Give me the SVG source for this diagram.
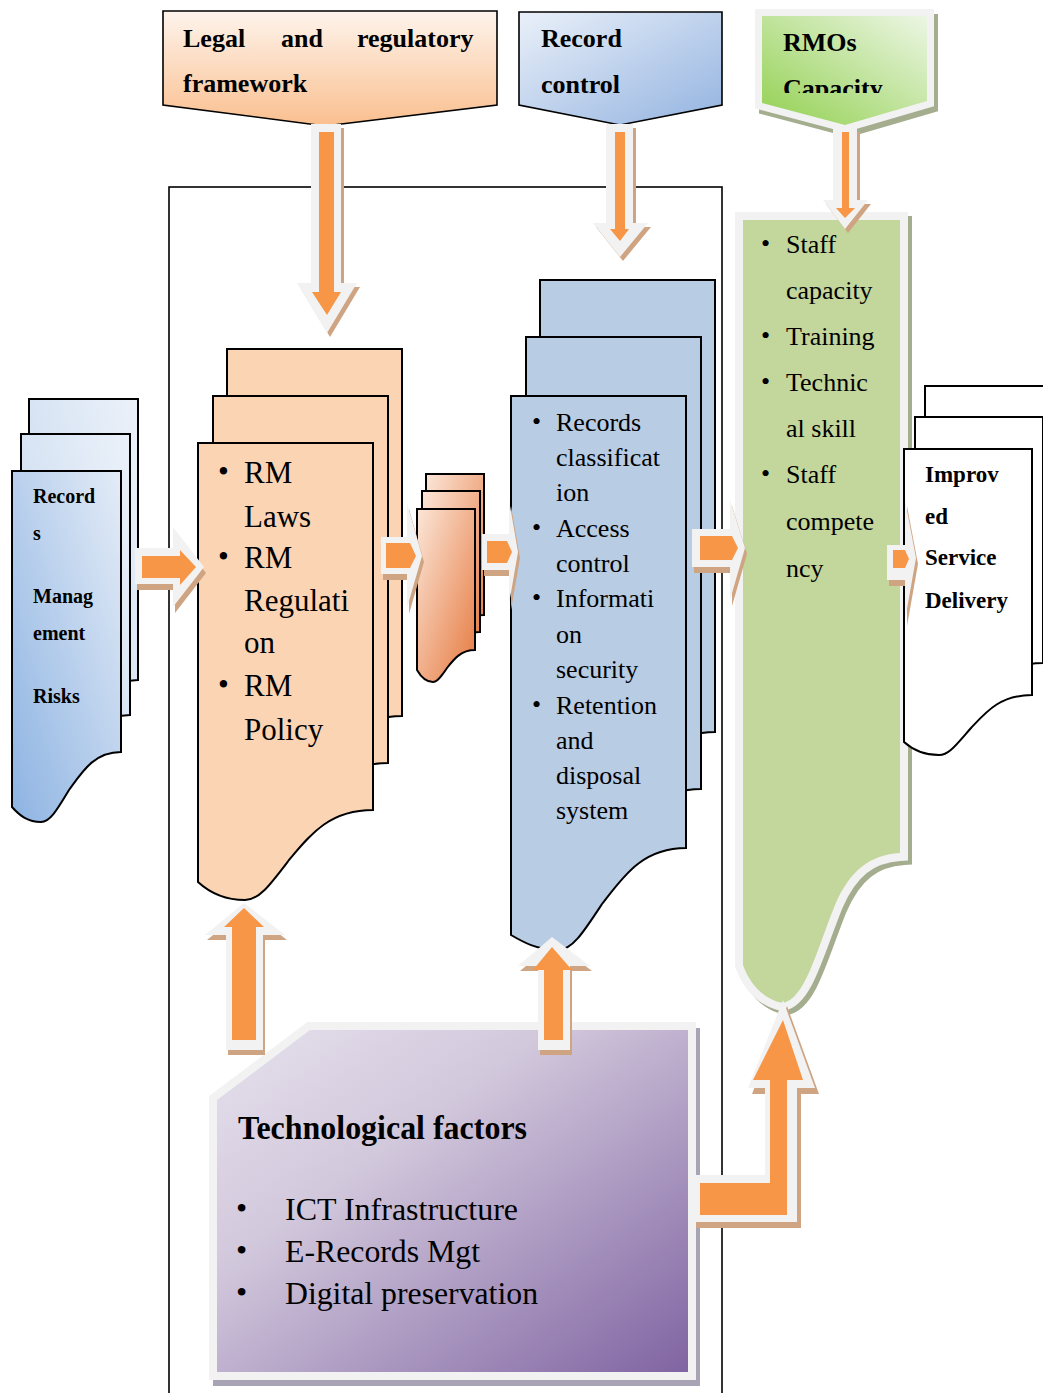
<svg xmlns="http://www.w3.org/2000/svg" xmlns:xlink="http://www.w3.org/1999/xlink" width="1043" height="1393" viewBox="0 0 1043 1393">
<defs>
<style>
.t{font-family:"Liberation Serif","Times New Roman",serif;fill:#000}
.b{font-weight:bold}
.pg{stroke:#000;stroke-width:2}
.sh{fill:#cfa482}
.wo{fill:#f2f2f2}
.or{fill:#f79646}
</style>
<linearGradient id="gLegal" x1="0" y1="0" x2="0" y2="1"><stop offset="0" stop-color="#fef4ec"/><stop offset="1" stop-color="#fabf8f"/></linearGradient>
<linearGradient id="gRec" x1="0" y1="0" x2="1" y2="1"><stop offset="0" stop-color="#eaf0f9"/><stop offset="1" stop-color="#93b3e0"/></linearGradient>
<linearGradient id="gRmo" x1="1" y1="0" x2="0" y2="1"><stop offset="0" stop-color="#ecf6e4"/><stop offset="1" stop-color="#92d050"/></linearGradient>
<linearGradient id="gBlueF" x1="0" y1="1" x2="1" y2="0"><stop offset="0" stop-color="#8db3e2"/><stop offset="1" stop-color="#e4ecf7"/></linearGradient>
<linearGradient id="gBlueB" x1="0" y1="1" x2="1" y2="0"><stop offset="0" stop-color="#c4d7ef"/><stop offset="1" stop-color="#ebf1f9"/></linearGradient>
<linearGradient id="gOr" x1="0" y1="0" x2="1" y2="1"><stop offset="0" stop-color="#fbe6d8"/><stop offset="1" stop-color="#e6793f"/></linearGradient>
<linearGradient id="gTech" x1="0" y1="0" x2="1" y2="1"><stop offset="0" stop-color="#e6e1ed"/><stop offset="0.35" stop-color="#d2c8dc"/><stop offset="1" stop-color="#8064a2"/></linearGradient>
<clipPath id="cRmo"><rect x="755" y="0" width="185" height="93"/></clipPath>
<path id="pgRM" d="M0,0 H175 V367 C131,367 112,392 91,417 C72,442 61,457 47,457 C26,457 12,450 0,439 Z"/>
<path id="pgBl" d="M0,0 H175 V452 C131,452 112,481 91,508 C72,537 61,554 47,554 C26,554 12,546 0,539 Z"/>
<path id="pgRk" d="M0,0 H109 V281 C82,281 70,301 57,319 C45,339 38,351 29,351 C16,351 8,345 0,336 Z"/>
<path id="pgSm" d="M0,0 H58 V141 C44,141 37,150 30,159 C24,168 20,173 16,173 C9,173 4,168 0,161 Z"/>
<path id="pgIm" d="M0,0 H128 V246 C96,246 82,263 67,279 C52,296 45,306 35,306 C19,306 9,301 0,293 Z"/>
</defs>

<rect x="169" y="187" width="553" height="1230" fill="none" stroke="#000" stroke-width="1.6"/>

<g id="legal">
<polygon points="163,11 497,11 497,105 325,126 163,105" fill="url(#gLegal)" stroke="#000" stroke-width="1.6"/>
<text class="t b" font-size="26" x="183" y="47">Legal</text>
<text class="t b" font-size="26" x="281" y="47">and</text>
<text class="t b" font-size="26" x="357" y="47">regulatory</text>
<text class="t b" font-size="26" x="183" y="92">framework</text>
</g>

<g id="recordcontrol">
<polygon points="519,12 722,12 722,105 620,125 519,105" fill="url(#gRec)" stroke="#000" stroke-width="1.6"/>
<text class="t b" font-size="26" x="541" y="47">Record</text>
<text class="t b" font-size="26" x="541" y="93">control</text>
</g>

<g id="rmos">
<polygon points="762,16 927,16 927,101 845,125 762,103" fill="#a5ad8f" stroke="#a5ad8f" stroke-width="14" stroke-linejoin="miter" transform="translate(4,5)"/>
<polygon points="762,16 927,16 927,101 845,125 762,103" fill="url(#gRmo)" stroke="#f2f2f2" stroke-width="14"/>
<polygon points="762,16 927,16 927,101 845,125 762,103" fill="url(#gRmo)"/>
<g clip-path="url(#cRmo)">
<text class="t b" font-size="26" x="783" y="51">RMOs</text>
<text class="t b" font-size="26" x="783" y="97">Capacity</text>
</g>
</g>

<g id="risks">
<use xlink:href="#pgRk" transform="translate(29,399)" class="pg" fill="url(#gBlueB)"/>
<use xlink:href="#pgRk" transform="translate(21,434)" class="pg" fill="url(#gBlueB)"/>
<use xlink:href="#pgRk" transform="translate(12,471)" class="pg" fill="url(#gBlueF)"/>
<text class="t b" font-size="20" x="33" y="503">Record</text>
<text class="t b" font-size="20" x="33" y="540">s</text>
<text class="t b" font-size="20" x="33" y="603">Manag</text>
<text class="t b" font-size="20" x="33" y="640">ement</text>
<text class="t b" font-size="20" x="33" y="703">Risks</text>
</g>

<g id="rmlaws">
<use xlink:href="#pgRM" transform="translate(227,349)" class="pg" fill="#fbd4b4"/>
<use xlink:href="#pgRM" transform="translate(213,396)" class="pg" fill="#fbd4b4"/>
<use xlink:href="#pgRM" transform="translate(198,443)" class="pg" fill="#fbd4b4"/>
<g class="t" font-size="31">
<text x="218" y="482">•</text><text x="244" y="483">RM</text>
<text x="244" y="527">Laws</text>
<text x="218" y="567">•</text><text x="244" y="568">RM</text>
<text x="244" y="611">Regulati</text>
<text x="244" y="653">on</text>
<text x="218" y="695">•</text><text x="244" y="696">RM</text>
<text x="244" y="740">Policy</text>
</g>
</g>

<g id="smalldocs">
<use xlink:href="#pgSm" transform="translate(426,474)" class="pg" fill="url(#gOr)"/>
<use xlink:href="#pgSm" transform="translate(422,491)" class="pg" fill="url(#gOr)"/>
<use xlink:href="#pgSm" transform="translate(417,509)" class="pg" fill="url(#gOr)"/>
</g>

<g id="recordsys">
<use xlink:href="#pgBl" transform="translate(540,280)" class="pg" fill="#b8cce4"/>
<use xlink:href="#pgBl" transform="translate(526,337)" class="pg" fill="#b8cce4"/>
<use xlink:href="#pgBl" transform="translate(511,396)" class="pg" fill="#b8cce4"/>
<g class="t" font-size="26">
<text x="532" y="430">•</text><text x="556" y="431">Records</text>
<text x="556" y="466">classificat</text>
<text x="556" y="501">ion</text>
<text x="532" y="536">•</text><text x="556" y="537">Access</text>
<text x="556" y="572">control</text>
<text x="532" y="606">•</text><text x="556" y="607">Informati</text>
<text x="556" y="643">on</text>
<text x="556" y="678">security</text>
<text x="532" y="713">•</text><text x="556" y="714">Retention</text>
<text x="556" y="749">and</text>
<text x="556" y="784">disposal</text>
<text x="556" y="819">system</text>
</g>
</g>

<g id="capacity">
<path d="M743,220 H900 V853 C870,855 850,870 835,905 C815,955 805,998 783,1003 C765,1000 750,985 743,965 Z" fill="#a5ad8f" stroke="#a5ad8f" stroke-width="16" transform="translate(4,4)"/>
<path d="M743,220 H900 V853 C870,855 850,870 835,905 C815,955 805,998 783,1003 C765,1000 750,985 743,965 Z" fill="#f2f2f2" stroke="#f2f2f2" stroke-width="16"/>
<path d="M743,220 H900 V853 C870,855 850,870 835,905 C815,955 805,998 783,1003 C765,1000 750,985 743,965 Z" fill="#c3d69b"/>
<g class="t" font-size="26">
<text x="761" y="252">•</text><text x="786" y="253">Staff</text>
<text x="786" y="299">capacity</text>
<text x="761" y="344">•</text><text x="786" y="345">Training</text>
<text x="761" y="390">•</text><text x="786" y="391">Technic</text>
<text x="786" y="437">al skill</text>
<text x="761" y="482">•</text><text x="786" y="483">Staff</text>
<text x="786" y="530">compete</text>
<text x="786" y="577">ncy</text>
</g>
</g>

<g id="improved">
<use xlink:href="#pgIm" transform="translate(925,386)" class="pg" fill="#fff"/>
<use xlink:href="#pgIm" transform="translate(915,417)" class="pg" fill="#fff"/>
<use xlink:href="#pgIm" transform="translate(904,449)" class="pg" fill="#fff"/>
<text class="t b" font-size="23" x="925" y="482">Improv</text>
<text class="t b" font-size="23" x="925" y="524">ed</text>
<text class="t b" font-size="23" x="925" y="565">Service</text>
<text class="t b" font-size="23" x="925" y="608">Delivery</text>
</g>

<g id="tech">
<path d="M310,1030 H688 V1372 H217 V1100 Z" fill="#a9a3b6" stroke="#a9a3b6" stroke-width="16" transform="translate(4,6)"/>
<path d="M310,1030 H688 V1372 H217 V1100 Z" fill="#f2f2f2" stroke="#f2f2f2" stroke-width="16"/>
<path d="M310,1030 H688 V1372 H217 V1100 Z" fill="url(#gTech)"/>
<text class="t b" font-size="33" x="238" y="1139" textLength="289" lengthAdjust="spacingAndGlyphs">Technological factors</text>
<g class="t" font-size="32">
<text x="236" y="1219">•</text><text x="285" y="1220" textLength="233" lengthAdjust="spacingAndGlyphs">ICT Infrastructure</text>
<text x="236" y="1261">•</text><text x="285" y="1262" textLength="195" lengthAdjust="spacingAndGlyphs">E-Records Mgt</text>
<text x="236" y="1303">•</text><text x="285" y="1304" textLength="253" lengthAdjust="spacingAndGlyphs">Digital preservation</text>
</g>
</g>

<g id="connectors">
<!-- legal down -->
<polygon class="sh" transform="translate(3,4)" points="311,124 341,124 341,283 357,283 327,333 297,283 311,283"/>
<polygon class="wo" points="311,124 341,124 341,283 357,283 327,333 297,283 311,283"/>
<polygon class="or" points="319,132 334,132 334,292 341,292 327,315 312,292 319,292"/>
<!-- record control down -->
<polygon class="sh" transform="translate(3,4)" points="606,124 633,124 633,223 648,223 620,257 593,223 606,223"/>
<polygon class="wo" points="606,124 633,124 633,223 648,223 620,257 593,223 606,223"/>
<polygon class="or" points="615,132 625,132 625,229 629,229 620,241 610,229 615,229"/>
<!-- rmos down -->
<polygon class="sh" transform="translate(3,4)" points="833,128 857,128 857,200 868,200 845,229 823,200 833,200"/>
<polygon class="wo" points="833,128 857,128 857,200 868,200 845,229 823,200 833,200"/>
<polygon class="or" points="842,132 849,132 849,208 855,208 845,218 836,208 842,208"/>
<!-- risks -> rm -->
<polygon class="sh" transform="translate(2,6)" points="135,548 173,548 173,527 204,567 173,607 173,584 135,584"/>
<polygon class="wo" points="135,548 173,548 173,527 204,567 173,607 173,584 135,584"/>
<polygon class="or" points="142,556 180,556 180,550 196,567 180,585 180,578 142,578"/>
<!-- rm -> small -->
<polygon class="sh" transform="translate(2,6)" points="381,537 407,537 407,503 422,556 407,608 407,574 381,574"/>
<polygon class="wo" points="381,537 407,537 407,503 422,556 407,608 407,574 381,574"/>
<polygon class="or" points="386,543 410,543 416,556 410,568 386,568"/>
<!-- small -> blue -->
<polygon class="sh" transform="translate(2,6)" points="482,534 509,534 509,500 518,552 509,604 509,570 482,570"/>
<polygon class="wo" points="482,534 509,534 509,500 518,552 509,604 509,570 482,570"/>
<polygon class="or" points="487,541 507,541 512,552 507,563 487,563"/>
<!-- blue -> green -->
<polygon class="sh" transform="translate(2,6)" points="692,529 730,529 730,500 745,548 730,600 730,567 692,567"/>
<polygon class="wo" points="692,529 730,529 730,500 745,548 730,600 730,567 692,567"/>
<polygon class="or" points="700,536 732,536 738,548 732,560 700,560"/>
<!-- green -> improved -->
<polygon class="sh" transform="translate(2,6)" points="887,545 905,545 905,500 916,558 905,620 905,580 887,580"/>
<polygon class="wo" points="887,545 905,545 905,500 916,558 905,620 905,580 887,580"/>
<polygon class="or" points="893,550 905,550 909,559 905,568 893,568"/>
<!-- tech -> rm up -->
<polygon class="sh" transform="translate(2,5)" points="226,1050 263,1050 263,935 285,935 244,903 205,935 226,935"/>
<polygon class="wo" points="226,1050 263,1050 263,935 285,935 244,903 205,935 226,935"/>
<polygon class="or" points="232,1040 256,1040 256,927 264,927 244,908 224,927 232,927"/>
<!-- tech -> blue up -->
<polygon class="sh" transform="translate(2,5)" points="538,1050 570,1050 570,966 590,966 552,937 518,966 538,966"/>
<polygon class="wo" points="538,1050 570,1050 570,966 590,966 552,937 518,966 538,966"/>
<polygon class="or" points="544,1040 563,1040 563,970 572,970 552,947 533,970 544,970"/>
<!-- tech -> green elbow -->
<path class="sh" transform="translate(4,6)" d="M692,1175 H765 V1088 H748 L783,1000 L815,1088 H797 V1222 H692 Z"/>
<path class="wo" d="M692,1175 H765 V1088 H748 L783,1000 L815,1088 H797 V1222 H692 Z"/>
<path class="or" d="M700,1183 H770 V1080 H753 L783,1020 L803,1080 H787 V1215 H700 Z"/>
</g>
</svg>
